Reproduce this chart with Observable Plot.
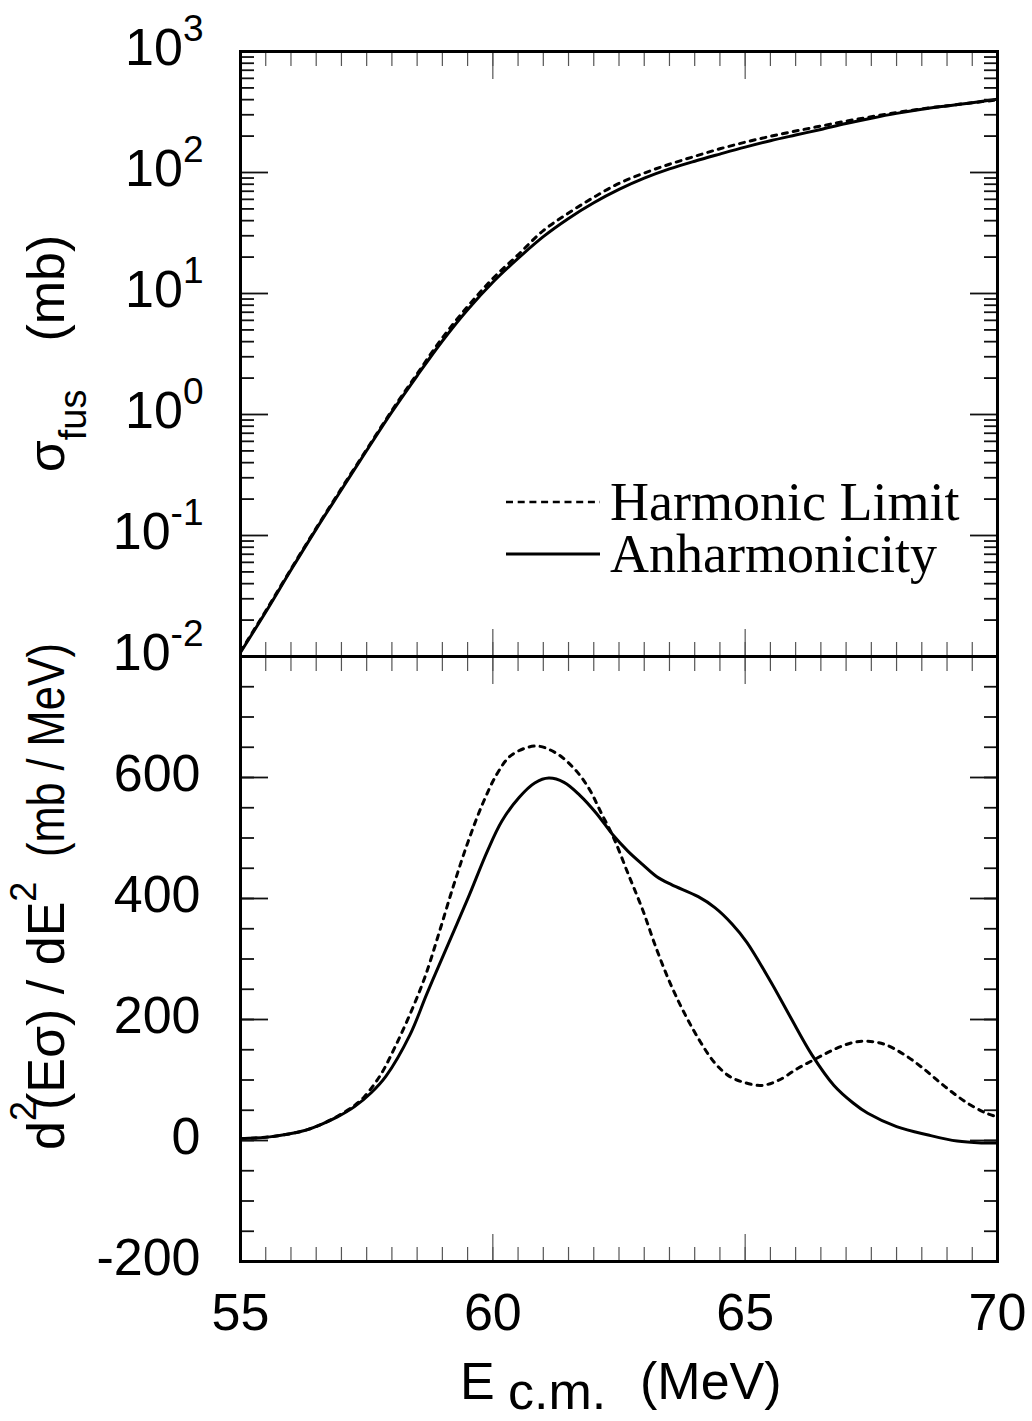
<!DOCTYPE html>
<html><head><meta charset="utf-8">
<script src="https://cdn.jsdelivr.net/npm/d3@7"></script>
<script src="https://cdn.jsdelivr.net/npm/@observablehq/plot@0.6"></script>
<style>
body{margin:0;background:#fff;}
#wrap{position:relative;width:1032px;height:1421px;overflow:hidden;background:#fff;}
#wrap svg{position:absolute;left:0;}
</style></head><body><div id="wrap"></div>
<script>
// ---------- data ----------
// top panel: fusion cross section (mb) vs E c.m. (MeV)
const eTop = [55,55.5,56,56.5,57,57.5,58,58.5,59,59.5,60,60.5,61,61.5,62,62.5,63,63.5,64,64.5,65,65.5,66,66.5,67,67.5,68,68.5,69,69.5,70];
const sigmaAnharm = [0.0108,0.0233,0.0518,0.113,0.239,0.504,1.05,2.09,4.05,7.35,12.4,19.5,29.5,41.7,56.2,72.4,89.7,107,124,142,162,183,204,227,254,281,308,333,355,377,403];
const sigmaHarm   = [0.0110,0.0238,0.0528,0.115,0.245,0.515,1.08,2.17,4.3,7.8,13.3,20.9,33.1,46.2,62.4,81.3,98.9,117,136,157,178,199,220,242,266,289,313,336,356,377,398];
// bottom panel: barrier distribution d2(E sigma)/dE2 (mb/MeV)
const eAnharm = [55,55.58,56.25,56.58,56.92,57.26,57.59,57.88,58.36,58.69,59.03,59.51,59.89,60.18,60.52,60.83,61.11,61.41,61.72,62.05,62.39,62.68,62.97,63.25,63.54,64.07,64.4,64.74,65.03,65.51,65.89,66.32,66.76,67.14,67.43,68,68.63,69.2,69.68,70];
const dAnharm = [3,6,16,26,39,56,79,106,175,242,308,401,478,528,567,591,599,592,571,541,504,478,456,436,423,403,385,358,328,262,205,142,91,62,45,23,9,-1,-4,-4];
const eHarm = [55,55.58,56.25,56.58,56.92,57.26,57.45,57.78,58.07,58.36,58.65,58.93,59.22,59.51,59.8,60.09,60.37,60.85,61.24,61.62,61.91,62.15,62.39,62.68,62.97,63.25,63.54,63.83,64.12,64.4,64.69,64.98,65.32,65.65,66.04,66.42,66.8,67.14,67.43,67.76,68.15,68.53,68.96,69.4,69.78,70];
const dHarm = [3,6,16,26,40,58,72,109,156,209,269,342,421,494,557,607,637,652,641,614,581,541,501,441,381,315,255,205,162,128,106,96,91,99,119,136,152,162,164,159,142,119,89,62,45,39];
// ticks
const xMajor = [55,60,65,70];
const xMinor = d3.range(110,141).map(d => d/2);
const decades = [1e-2,1e-1,1,10,100,1000];
const logMinor = [1e-2,1e-1,1,10,100].flatMap(d => d3.range(2,10).map(m => +(m*d).toPrecision(3)));
const yMajorB = [-200,0,200,400,600,800];
const yLabelsB = [-200,0,200,400,600];
const yMinorB = d3.range(-200,801,50);
const seriesNames = ["Harmonic Limit","Anharmonicity"];

const SANS = "'Liberation Sans', Arial, Helvetica, sans-serif";
const SERIF = "'Liberation Serif', 'Times New Roman', serif";
const topRows = eTop.flatMap((e,i) => [{E:e, v:sigmaHarm[i], s:seriesNames[0]}, {E:e, v:sigmaAnharm[i], s:seriesNames[1]}]);
const botRows = [
  ...eHarm.map((e,i) => ({E:e, v:dHarm[i], s:seriesNames[0]})),
  ...eAnharm.map((e,i) => ({E:e, v:dAnharm[i], s:seriesNames[1]}))
];

const blank = () => "";
const tk = {tickFormat: blank, label: null, strokeWidth: 1.8, stroke: "#111"};
const tkx = {tickFormat: blank, label: null, strokeWidth: 1.2, stroke: "#555"};
function frameTicks(yMaj, yMin) {
  return [
    Plot.axisY(yMaj, {anchor: "left", tickSize: -28, ...tk}),
    Plot.axisY(yMin, {anchor: "left", tickSize: -14, ...tk}),
    Plot.axisY(yMaj, {anchor: "right", tickSize: -28, ...tk}),
    Plot.axisY(yMin, {anchor: "right", tickSize: -14, ...tk}),
    Plot.axisX(xMinor, {anchor: "top", tickSize: -14, ...tkx}),
    Plot.axisX(xMajor, {anchor: "top", tickSize: -27, ...tkx}),
    Plot.axisX(xMinor, {anchor: "bottom", tickSize: -14, ...tkx}),
    Plot.axisX(xMajor, {anchor: "bottom", tickSize: -27, ...tkx})
  ];
}
function curves(rows) {
  return [
    Plot.line(rows.filter(d => d.s === seriesNames[0]), {x: "E", y: "v", stroke: "black", strokeWidth: 3, strokeDasharray: "5,6", curve: "catmull-rom", clip: true}),
    Plot.line(rows.filter(d => d.s === seriesNames[1]), {x: "E", y: "v", stroke: "black", strokeWidth: 3, curve: "catmull-rom", clip: true})
  ];
}

const topPlot = Plot.plot({
  width: 1032, height: 700,
  marginTop: 51, marginBottom: 44, marginLeft: 240, marginRight: 35,
  x: {domain: [55, 70]},
  y: {type: "log", domain: [1e-2, 1e3]},
  style: {background: "transparent", overflow: "visible", fontFamily: SANS, color: "black"},
  marks: [
    ...curves(topRows),
    ...frameTicks(decades, logMinor),
    Plot.axisY(decades, {anchor: "left", tickSize: 0, tickPadding: 37, fontSize: 52, dy: -3, label: null,
      tickFormat: d => "10^" + Math.round(Math.log10(d))}),
    Plot.frame({stroke: "black", strokeWidth: 3})
  ]
});
topPlot.style.top = "0px";

const botPlot = Plot.plot({
  width: 1032, height: 821,
  marginTop: 56, marginBottom: 160, marginLeft: 240, marginRight: 35,
  x: {domain: [55, 70]},
  y: {domain: [-200, 800]},
  style: {background: "transparent", overflow: "visible", fontFamily: SANS, color: "black"},
  marks: [
    ...curves(botRows),
    ...frameTicks(yMajorB, yMinorB),
    Plot.axisY(yLabelsB, {anchor: "left", tickSize: 0, tickPadding: 40, fontSize: 52, dy: -3, label: null, tickFormat: d => String(d)}),
    Plot.axisX(xMajor, {anchor: "bottom", tickSize: 0, tickPadding: 32, fontSize: 52, label: null, tickFormat: d => String(d)}),
    Plot.frame({stroke: "black", strokeWidth: 3})
  ]
});
botPlot.style.top = "600px";

const wrap = document.getElementById("wrap");
wrap.append(topPlot, botPlot);

// superscript exponents for the log tick labels
d3.select(topPlot).selectAll('g[aria-label="y-axis tick label"] text').each(function() {
  const t = d3.select(this), s = t.text(), m = s.match(/^10\^(.*)$/);
  if (m) { t.text("10"); t.append("tspan").attr("dy", -24).attr("font-size", 37).text(m[1]); }
});

// ---------- titles & legend ----------
const ov = d3.select(wrap).append("svg").attr("width", 1032).attr("height", 1421)
  .style("top", "0px").attr("font-family", SANS).attr("fill", "black");

const t1 = ov.append("text").attr("transform", "translate(64,353.5) rotate(-90)")
  .attr("text-anchor", "middle").attr("font-size", 52);
t1.append("tspan").text("σ");
t1.append("tspan").attr("font-size", 38).attr("dy", 22).text("fus");
t1.append("tspan").attr("dy", -22).attr("dx", 48).text("(mb)");

const t2 = ov.append("text").attr("transform", "translate(64,0) rotate(-90)").attr("font-size", 52);
t2.append("tspan").attr("x", -1150).text("d");
t2.append("tspan").attr("font-size", 36).attr("dy", -28).text("2");
t2.append("tspan").attr("x", -1110).attr("dy", 28).text("(Eσ) / dE");
t2.append("tspan").attr("font-size", 36).attr("dy", -28).text("2");
ov.append("text").attr("transform", "translate(64,0) rotate(-90)").attr("font-size", 52)
  .attr("x", -857).attr("textLength", 214).attr("lengthAdjust", "spacingAndGlyphs").text("(mb / MeV)");

const t3 = ov.append("text").attr("font-size", 52).attr("x", 460).attr("y", 1399);
t3.append("tspan").text("E");
t3.append("tspan").attr("x", 508).attr("dy", 10).text("c.m.");
t3.append("tspan").attr("x", 640).attr("dy", -10).text("(MeV)");

// legend
ov.append("line").attr("x1", 506).attr("x2", 600).attr("y1", 502).attr("y2", 502)
  .attr("stroke", "black").attr("stroke-width", 2.5).attr("stroke-dasharray", "7,4.7");
ov.append("line").attr("x1", 506).attr("x2", 600).attr("y1", 554).attr("y2", 554)
  .attr("stroke", "black").attr("stroke-width", 3);
ov.append("text").attr("x", 610).attr("y", 520).attr("font-family", SERIF).attr("font-size", 54).text(seriesNames[0]);
ov.append("text").attr("x", 610).attr("y", 572).attr("font-family", SERIF).attr("font-size", 54).text(seriesNames[1]);
</script>
</body></html>
